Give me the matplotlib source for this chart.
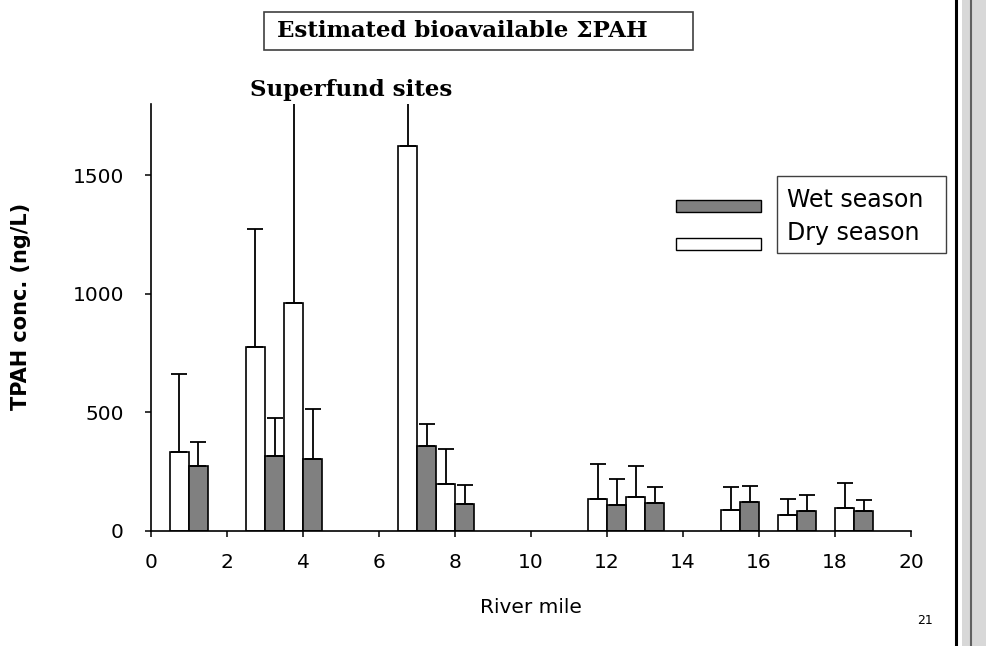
import matplotlib
matplotlib.use("Agg")
import matplotlib.pyplot as plt
from matplotlib.patches import Rectangle
from matplotlib.lines import Line2D
import numpy as np

# river mile of each sampling pair
miles = [1, 3, 4, 7, 8, 12, 13, 15.5, 17, 18.5]
# dry season (white bars) and its upper error
dry = [332, 774, 961, 1622, 197, 134, 142, 87, 69, 96]
dry_err = [329, 499, 950, 400, 148, 148, 133, 100, 67, 108]
# wet season (grey bars) and its upper error
wet = [273, 316, 303, 358, 114, 108, 118, 121, 86, 83]
wet_err = [102, 159, 210, 94, 80, 110, 66, 70, 66, 46]

xticks = [0, 2, 4, 6, 8, 10, 12, 14, 16, 18, 20]
yticks = [0, 500, 1000, 1500]

SANS = "DejaVu Sans"
W, H = 987, 646
fig = plt.figure(figsize=(W / 100, H / 100), dpi=100)
ax = fig.add_axes([151 / W, 1 - 531 / H, 760 / W, 427 / H])

x = np.array(miles)
bw = 0.5
ax.bar(x - 0.25, dry, bw, color="white", edgecolor="black", linewidth=1.2, zorder=2)
ax.bar(x + 0.25, wet, bw, color="#808080", edgecolor="black", linewidth=1.2, zorder=2)
ax.errorbar(x - 0.25, dry, yerr=[np.zeros(len(dry)), dry_err], fmt="none",
            ecolor="black", elinewidth=1.3, capsize=5.8, capthick=1.3, zorder=3)
ax.errorbar(x + 0.25, wet, yerr=[np.zeros(len(wet)), wet_err], fmt="none",
            ecolor="black", elinewidth=1.3, capsize=5.8, capthick=1.3, zorder=3)

ax.set_xlim(0, 20)
ax.set_ylim(0, 1800)
ax.set_xticks(xticks)
ax.set_yticks(yticks)
for s in ["top", "right"]:
    ax.spines[s].set_visible(False)
for s in ["left", "bottom"]:
    ax.spines[s].set_linewidth(1.2)
ax.tick_params(direction="out", length=4.5, width=1.1, labelsize=14.5,
               labelfontfamily=SANS)
ax.tick_params(axis="x", pad=11)
ax.tick_params(axis="y", pad=15)

ax.set_xlabel("River mile", fontsize=14.5, family=SANS, labelpad=19)
ax.set_ylabel("TPAH conc. (ng/L)", fontsize=15, family=SANS, fontweight="bold")
ax.yaxis.set_label_coords(-0.158, 0.525)

# title box
fig.add_artist(Rectangle((264 / W, 1 - 50 / H), 429 / W, 38 / H, facecolor="white",
                         edgecolor="#404040", linewidth=1.2, transform=fig.transFigure))
fig.text(277 / W, 1 - 31 / H, "Estimated bioavailable ΣPAH", family="DejaVu Serif",
         fontweight="bold", fontsize=16.5, ha="left", va="center")
fig.text(250 / W, 1 - 90 / H, "Superfund sites", family="DejaVu Serif",
         fontweight="bold", fontsize=16.5, ha="left", va="center")

# legend
fig.add_artist(Rectangle((676 / W, 1 - 212 / H), 85 / W, 12 / H, facecolor="#808080",
                         edgecolor="black", linewidth=1.0, transform=fig.transFigure))
fig.add_artist(Rectangle((676 / W, 1 - 250 / H), 85 / W, 12 / H, facecolor="white",
                         edgecolor="black", linewidth=1.0, transform=fig.transFigure))
fig.add_artist(Rectangle((777 / W, 1 - 253 / H), 169 / W, 77 / H, facecolor="white",
                         edgecolor="#404040", linewidth=1.0, transform=fig.transFigure))
fig.text(787 / W, 1 - 200 / H, "Wet season", family=SANS, fontsize=17,
         ha="left", va="center")
fig.text(787 / W, 1 - 233 / H, "Dry season", family=SANS, fontsize=17,
         ha="left", va="center")

fig.text(925 / W, 1 - 620 / H, "21", family=SANS, fontsize=9,
         ha="center", va="center")

# slide border on the right
fig.add_artist(Rectangle((962 / W, 0), 25 / W, 1, facecolor="#d8d8d8",
                         edgecolor="none", transform=fig.transFigure))
fig.add_artist(Line2D([971 / W, 971 / W], [0, 1], color="#606060", linewidth=1.5,
                      transform=fig.transFigure))
fig.add_artist(Line2D([956 / W, 956 / W], [0, 1], color="black", linewidth=2.2,
                      transform=fig.transFigure))

fig.savefig("out.png", dpi=100)
